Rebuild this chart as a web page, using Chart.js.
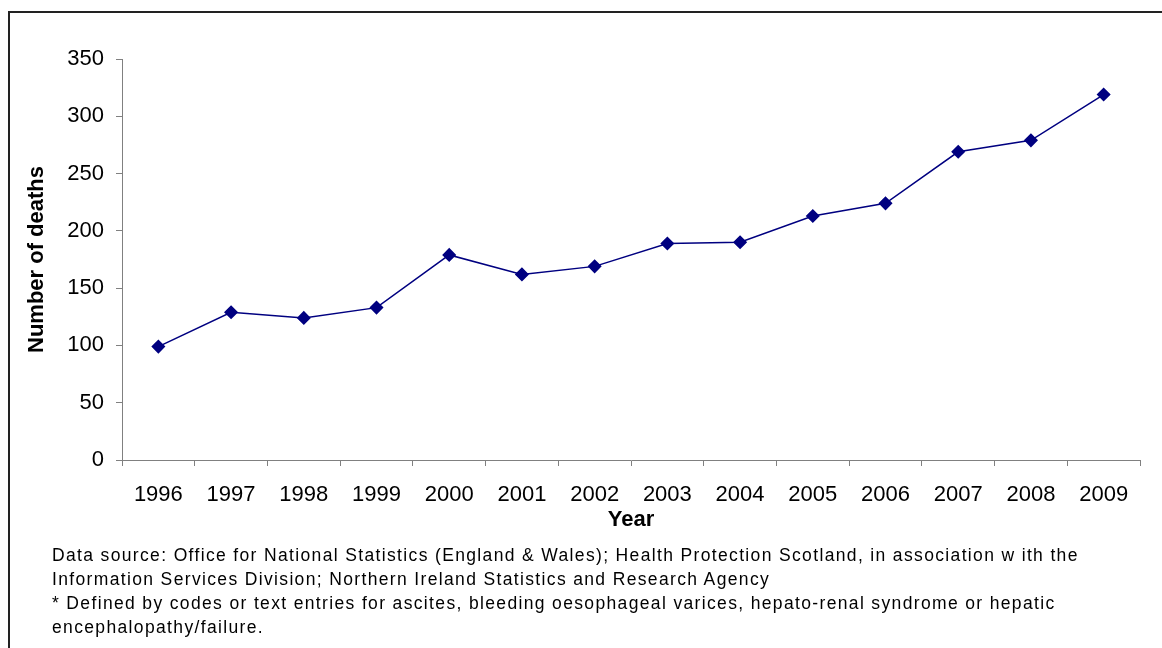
<!DOCTYPE html>
<html>
<head>
<meta charset="utf-8">
<script src="https://cdn.jsdelivr.net/npm/chart.js@4"></script>
<style>
  html, body { margin: 0; padding: 0; background: #fff; }
  #wrap { position: relative; width: 1162px; height: 648px; overflow: hidden; }
  #frame { position: absolute; left: 8px; top: 11px; width: 1200px; height: 700px;
           border-left: 2px solid #222; border-top: 2px solid #222; box-sizing: border-box; }
  canvas { position: absolute; left: 0; top: 0; }
  #notes { position: absolute; left: 52px; top: 543px; font-family: "Liberation Sans", Arial, sans-serif;
           font-size: 17.5px; letter-spacing: 1.35px; line-height: 24px; color: #000; white-space: nowrap; }
</style>
</head>
<body>
<div id="wrap">
  <div id="frame"></div>
  <canvas id="c" width="1162" height="648"></canvas>
  <div id="notes">
    <div>Data source: Office for National Statistics (England &amp; Wales); Health Protection Scotland, in association w ith the</div>
    <div>Information Services Division; Northern Ireland Statistics and Research Agency</div>
    <div>* Defined by codes or text entries for ascites, bleeding oesophageal varices, hepato-renal syndrome or hepatic</div>
    <div>encephalopathy/failure.</div>
  </div>
</div>
<script>
const years = ["1996","1997","1998","1999","2000","2001","2002","2003","2004","2005","2006","2007","2008","2009"];
const deaths = [99, 129, 124, 133, 179, 162, 169, 189, 190, 213, 224, 269, 279, 319];
const yTitle = "Number of deaths";
const xTitle = "Year";

const FONT = "'Liberation Sans', Arial, sans-serif";
new Chart(document.getElementById('c'), {
  type: 'line',
  data: {
    labels: years,
    datasets: [{
      data: deaths,
      borderColor: '#000080',
      backgroundColor: '#000080',
      borderWidth: 1.5,
      pointStyle: 'rectRot',
      pointRadius: 6,
      pointHoverRadius: 6,
      tension: 0,
      fill: false
    }]
  },
  options: {
    responsive: false,
    animation: false,
    layout: { padding: { left: 0, top: 59, right: 22, bottom: 111 } },
    plugins: { legend: { display: false }, tooltip: { enabled: false } },
    scales: {
      x: {
        offset: true,
        grid: { offset: true, drawOnChartArea: false, drawTicks: true, tickLength: 6, color: '#808080', lineWidth: 1 },
        border: { color: '#808080', width: 1 },
        ticks: { color: '#000', font: { family: FONT, size: 22 }, padding: 16, maxRotation: 0, autoSkip: false },
        title: { display: true, text: xTitle, color: '#000', font: { family: FONT, size: 22, weight: 'bold' }, padding: { top: 0, bottom: 4 } },
        afterFit: s => { s.height = 77; }
      },
      y: {
        min: 0, max: 350,
        grid: { drawOnChartArea: false, drawTicks: true, tickLength: 6, color: '#808080', lineWidth: 1 },
        border: { color: '#808080', width: 1 },
        ticks: { stepSize: 50, color: '#000', font: { family: FONT, size: 22 }, padding: 12 },
        title: { display: true, text: yTitle, color: '#000', font: { family: FONT, size: 22, weight: 'bold' }, padding: { top: 24, bottom: 0 } },
        afterFit: s => { s.width = 122; }
      }
    }
  }
});
</script>
</body>
</html>
